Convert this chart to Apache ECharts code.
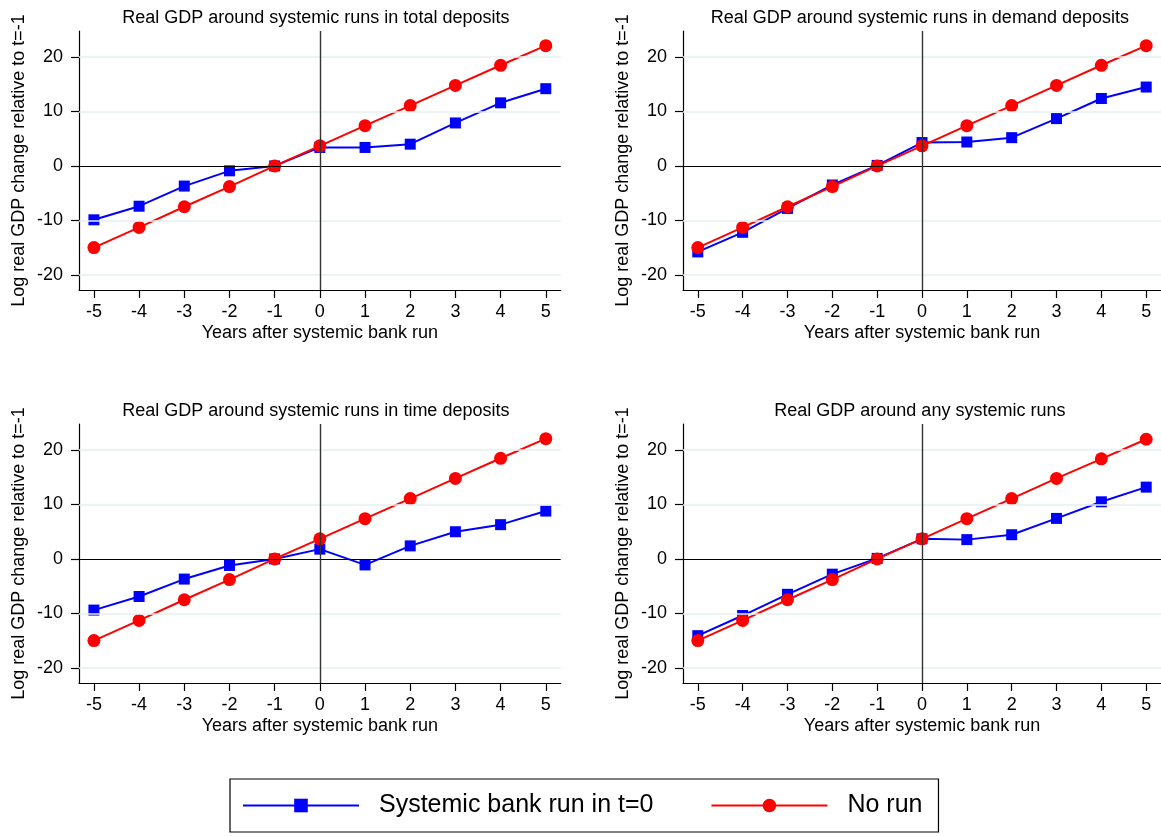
<!DOCTYPE html>
<html>
<head>
<meta charset="utf-8">
<script src="https://cdn.jsdelivr.net/npm/echarts@6/dist/echarts.min.js"></script>
<style>
html,body{margin:0;padding:0;background:#fff;}
#chart{width:1161px;height:836px;}
</style>
</head>
<body>
<div id="chart"></div>
<script>
var years = [-5, -4, -3, -2, -1, 0, 1, 2, 3, 4, 5];
var yTicks = [-20, -10, 0, 10, 20];
var panelTitles = [
  "Real GDP around systemic runs in total deposits",
  "Real GDP around systemic runs in demand deposits",
  "Real GDP around systemic runs in time deposits",
  "Real GDP around any systemic runs"
];
var runTotal   = [-9.9, -7.4, -3.7, -0.9, 0, 3.4, 3.4, 4.0, 7.9, 11.6, 14.2];
var runDemand  = [-15.8, -12.2, -7.8, -3.5, 0.1, 4.3, 4.4, 5.2, 8.7, 12.4, 14.5];
var runTime    = [-9.4, -6.9, -3.7, -1.2, 0, 1.8, -1.1, 2.4, 5.0, 6.3, 8.8];
var runAny     = [-14.1, -10.4, -6.5, -2.8, 0.1, 3.7, 3.55, 4.45, 7.45, 10.5, 13.2];
var noRunTotal  = [-15.0, -11.3, -7.5, -3.8, 0, 3.7, 7.4, 11.1, 14.8, 18.5, 22.1];
var noRunDemand = [-15.0, -11.3, -7.5, -3.8, 0, 3.7, 7.4, 11.1, 14.8, 18.5, 22.1];
var noRunTime   = [-15.0, -11.3, -7.5, -3.8, 0, 3.7, 7.4, 11.1, 14.8, 18.5, 22.1];
var noRunAny    = [-15.0, -11.3, -7.5, -3.8, 0, 3.7, 7.4, 11.1, 14.8, 18.4, 22.0];
var runSeries = [runTotal, runDemand, runTime, runAny];
var noRunSeries = [noRunTotal, noRunDemand, noRunTime, noRunAny];
var seriesNames = ["Systemic bank run in t=0", "No run"];
var xAxisName = "Years after systemic bank run";
var yAxisName = "Log real GDP change relative to t=-1";

var FONT = "Liberation Sans, Arial, sans-serif";
var gridPos = [
  {left: 79, top: 31},
  {left: 683, top: 31},
  {left: 79, top: 424},
  {left: 683, top: 424}
];
var GW = 481.7, GH = 259;

function pairs(ys){ return years.map(function(x,i){ return [x, ys[i]]; }); }

var grids = [], xAxes = [], yAxes = [], series = [], titles = [];
for (var p = 0; p < 4; p++) {
  grids.push({left: gridPos[p].left, top: gridPos[p].top, width: GW, height: GH, containLabel: false});
  titles.push({
    text: panelTitles[p], left: gridPos[p].left + GW/2 - 9, top: gridPos[p].top - 27, textAlign: 'center',
    textStyle: {fontFamily: FONT, fontSize: 18, fontWeight: 'normal', color: '#000'}
  });
  xAxes.push({
    type: 'value', gridIndex: p, min: -5.33, max: 5.33,
    name: xAxisName, nameLocation: 'middle', nameGap: 34,
    nameTextStyle: {fontFamily: FONT, fontSize: 18, color: '#000'},
    axisLine: {show: true, onZero: false, lineStyle: {color: '#000', width: 1.2}},
    axisTick: {show: true, length: 8, customValues: years, lineStyle: {color: '#000', width: 1.2}},
    axisLabel: {customValues: years, fontFamily: FONT, fontSize: 18, color: '#000', margin: 13},
    splitLine: {show: false}
  });
  yAxes.push({
    type: 'value', gridIndex: p, min: -22.8, max: 24.8,
    name: yAxisName, nameLocation: 'middle', nameGap: 51, nameRotate: 90,
    nameTextStyle: {fontFamily: FONT, fontSize: 18, color: '#000'},
    axisLine: {show: true, onZero: false, lineStyle: {color: '#000', width: 1.2}},
    axisTick: {show: true, length: 8, customValues: yTicks, lineStyle: {color: '#000', width: 1.2}},
    axisLabel: {customValues: yTicks, fontFamily: FONT, fontSize: 18, color: '#000', margin: 16},
    splitLine: {show: false}
  });
  series.push({
    name: seriesNames[0], type: 'line', xAxisIndex: p, yAxisIndex: p,
    data: pairs(runSeries[p]), symbol: 'rect', symbolSize: 11,
    lineStyle: {color: '#0000ff', width: 2}, itemStyle: {color: '#0000ff'},
    animation: false, z: 3,
    markLine: {
      silent: true, symbol: 'none', animation: false, label: {show: false},
      data: [
        {yAxis: -20, lineStyle: {color: '#e6eff2', width: 1.6, type: 'solid'}},
        {yAxis: -10, lineStyle: {color: '#e6eff2', width: 1.6, type: 'solid'}},
        {yAxis: 10, lineStyle: {color: '#e6eff2', width: 1.6, type: 'solid'}},
        {yAxis: 20, lineStyle: {color: '#e6eff2', width: 1.6, type: 'solid'}},
        {yAxis: 0, lineStyle: {color: '#000', width: 1.2, type: 'solid'}},
        {xAxis: 0, lineStyle: {color: '#333', width: 1.4, type: 'solid'}}
      ]
    }
  });
  series.push({
    name: seriesNames[1], type: 'line', xAxisIndex: p, yAxisIndex: p,
    data: pairs(noRunSeries[p]), symbol: 'circle', symbolSize: 13,
    lineStyle: {color: '#ff0000', width: 2}, itemStyle: {color: '#ff0000'},
    animation: false, z: 4
  });
}

var chart = echarts.init(document.getElementById('chart'), null, {renderer: 'canvas'});
chart.setOption({
  backgroundColor: '#fff',
  animation: false,
  title: titles,
  grid: grids,
  xAxis: xAxes,
  yAxis: yAxes,
  legend: {
    data: seriesNames, left: 230, top: 779, orient: 'horizontal',
    itemWidth: 116, itemHeight: 17, itemGap: 57,
    padding: [14, 16, 14, 12],
    borderColor: '#000', borderWidth: 1.2,
    selectedMode: false,
    textStyle: {fontFamily: FONT, fontSize: 25, color: '#000', padding: [0, 0, 0, 15]}
  },
  series: series
});
</script>
</body>
</html>
